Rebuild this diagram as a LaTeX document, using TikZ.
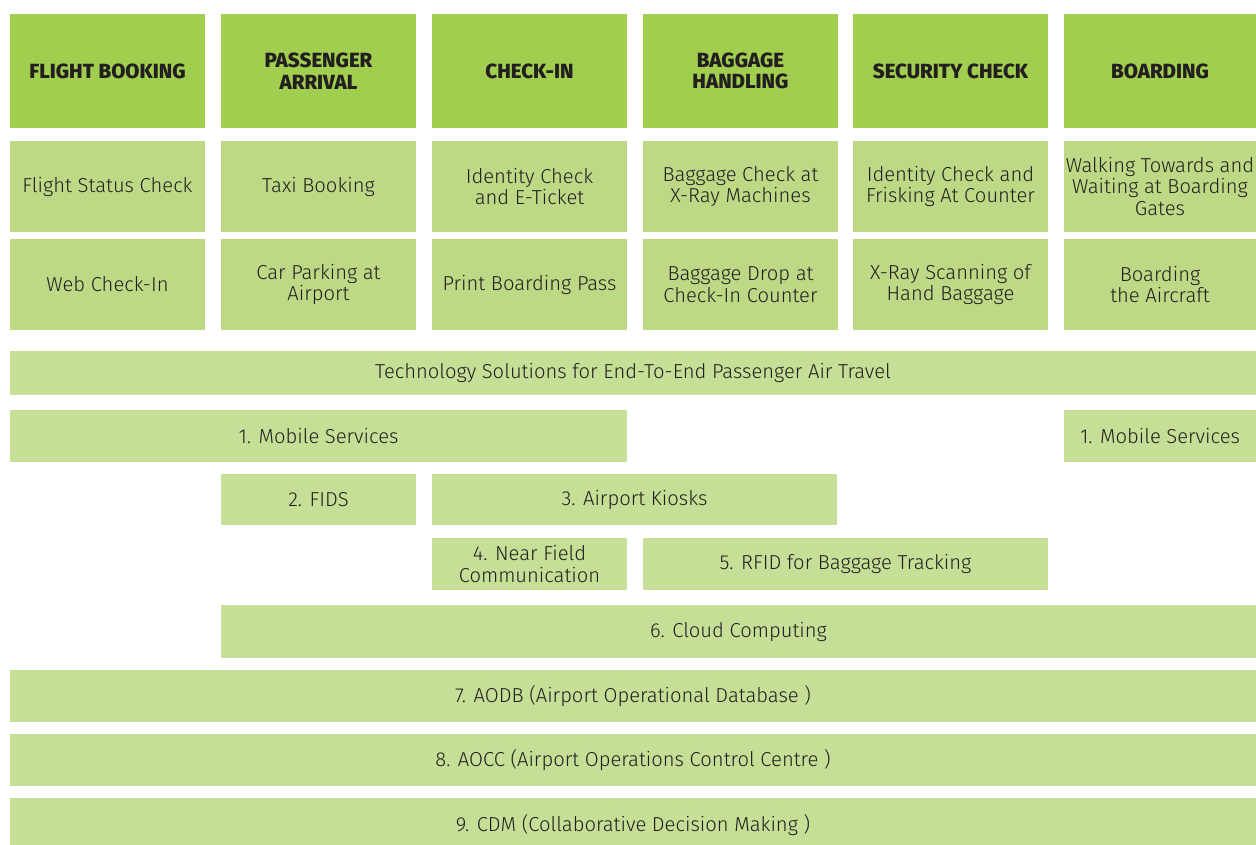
\documentclass[tikz,border=0pt]{standalone}
\usepackage{fontspec}
\setmainfont{Fira Sans}[UprightFont={* Light},BoldFont={* ExtraBold}]
\definecolor{hdr}{HTML}{A1CE4E}
\definecolor{stp}{HTML}{BDD986}
\definecolor{tec}{HTML}{C5DF96}
\definecolor{ink}{HTML}{231F20}
\tikzset{
  base/.style={rectangle,inner sep=0pt,align=center,text=ink,font=\fontsize{20.2}{21.5}\selectfont},
  hbox/.style={base,fill=hdr,font=\fontsize{20.5}{21.5}\selectfont\bfseries},
  sbox/.style={base,fill=stp},
  tbox/.style={base,fill=tec},
}
\begin{document}
\begin{tikzpicture}[x=1pt,y=-1pt]
\clip (0,0) rectangle (1256,845);
\fill[white] (0,0) rectangle (1256,845);
% headers
\node[hbox,minimum width=195pt,minimum height=114pt] (h1) at (107.5,71) {FLIGHT BOOKING};
\node[hbox,minimum width=195pt,minimum height=114pt] (h2) at (318.5,71) {PASSENGER\\ARRIVAL};
\node[hbox,minimum width=195pt,minimum height=114pt] (h3) at (529.5,71) {CHECK-IN};
\node[hbox,minimum width=195pt,minimum height=114pt] (h4) at (740.5,71) {BAGGAGE\\HANDLING};
\node[hbox,minimum width=195pt,minimum height=114pt] (h5) at (950.5,71) {SECURITY CHECK};
\node[hbox,minimum width=192pt,minimum height=114pt] (h6) at (1160,71) {BOARDING};
% row 2
\node[sbox,minimum width=195pt,minimum height=91pt] (a1) at (107.5,186.5) {Flight Status Check};
\node[sbox,minimum width=195pt,minimum height=91pt] (a2) at (318.5,186.5) {Taxi Booking};
\node[sbox,minimum width=195pt,minimum height=91pt] (a3) at (529.5,186.5) {Identity Check\\and E-Ticket};
\node[sbox,minimum width=195pt,minimum height=91pt] (a4) at (740.5,186.5) {Baggage Check at\\X-Ray Machines};
\node[sbox,minimum width=195pt,minimum height=91pt] (a5) at (950.5,186.5) {Identity Check and\\Frisking At Counter};
\node[sbox,minimum width=192pt,minimum height=91pt] (a6) at (1160,186.5) {Walking Towards and\\Waiting at Boarding\\Gates};
% row 3
\node[sbox,minimum width=195pt,minimum height=91pt] (b1) at (107.5,284.5) {Web Check-In};
\node[sbox,minimum width=195pt,minimum height=91pt] (b2) at (318.5,284.5) {Car Parking at\\Airport};
\node[sbox,minimum width=195pt,minimum height=91pt] (b3) at (529.5,284.5) {Print Boarding Pass};
\node[sbox,minimum width=195pt,minimum height=91pt] (b4) at (740.5,284.5) {Baggage Drop at\\Check-In Counter};
\node[sbox,minimum width=195pt,minimum height=91pt] (b5) at (950.5,284.5) {X-Ray Scanning of\\Hand Baggage};
\node[sbox,minimum width=192pt,minimum height=91pt] (b6) at (1160,284.5) {Boarding\\the Aircraft};
% technology
\node[tbox,minimum width=1246pt,minimum height=44pt] (t0) at (633,373) {Technology Solutions for End-To-End Passenger Air Travel};
\node[tbox,minimum width=617pt,minimum height=52pt] (t1) at (318.5,436) {1. Mobile Services};
\node[tbox,minimum width=192pt,minimum height=52pt] (t1b) at (1160,436) {1. Mobile Services};
\node[tbox,minimum width=195pt,minimum height=51pt] (t2) at (318.5,499.5) {2. FIDS};
\node[tbox,minimum width=405pt,minimum height=51pt] (t3) at (634.5,499.5) {3. Airport Kiosks};
\node[tbox,minimum width=195pt,minimum height=52pt] (t4) at (529.5,564) {4. Near Field\\Communication};
\node[tbox,minimum width=405pt,minimum height=52pt] (t5) at (845.5,564) {5. RFID for Baggage Tracking};
\node[tbox,minimum width=1035pt,minimum height=53pt] (t6) at (738.5,631.5) {6. Cloud Computing};
\node[tbox,minimum width=1246pt,minimum height=52pt] (t7) at (633,696) {7. AODB (Airport Operational Database )};
\node[tbox,minimum width=1246pt,minimum height=52pt] (t8) at (633,760) {8. AOCC (Airport Operations Control Centre )};
\node[tbox,minimum width=1246pt,minimum height=54pt] (t9) at (633,825) {9. CDM (Collaborative Decision Making )};
\end{tikzpicture}
\end{document}
